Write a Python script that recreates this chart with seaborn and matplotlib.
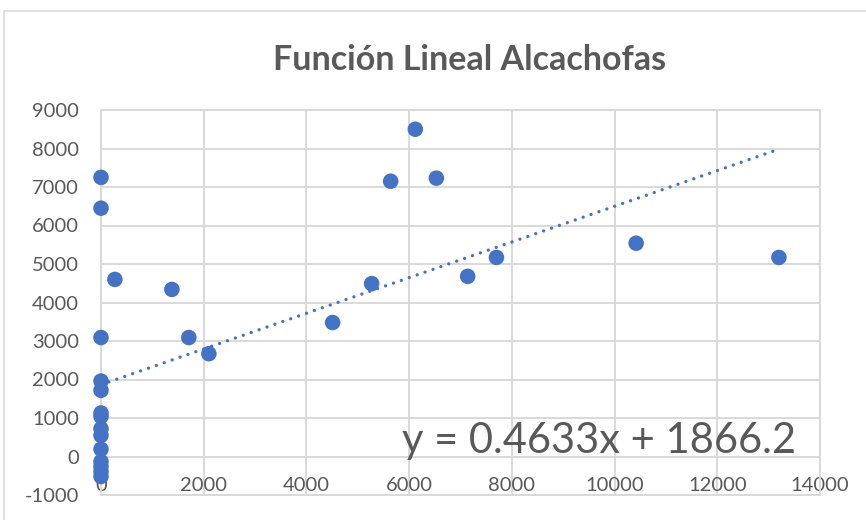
import matplotlib
matplotlib.use('Agg')
import matplotlib.pyplot as plt
import seaborn as sb
import pandas as pd
from matplotlib.patches import Rectangle

# hectareas (x) vs produccion (y)
x_vals = [0, 0, 0, 0, 0, 0, 0, 0, 0, 0, 0, 0, 0, 0,
          270, 1380, 1710, 2100, 4510, 5270, 5640, 6120, 6530, 7140, 7700, 10420, 13200]
y_vals = [7250, 6450, 3090, 1960, 1720, 1130, 1040, 720, 550, 190, -130, -260, -390, -520,
          4600, 4340, 3090, 2670, 3480, 4490, 7150, 8500, 7230, 4680, 5170, 5540, 5170]

slope = 0.4633
intercept = 1866.2

x_ticks = [0, 2000, 4000, 6000, 8000, 10000, 12000, 14000]
y_ticks = [-1000, 0, 1000, 2000, 3000, 4000, 5000, 6000, 7000, 8000, 9000]

title = 'Función Lineal Alcachofas'
blue = '#4472C4'
grey = '#595959'
grid = '#d9d9d9'

sb.set_theme(style='whitegrid')
plt.rcParams['font.family'] = ['Lato', 'DejaVu Sans']
plt.rcParams['axes.unicode_minus'] = False

data = pd.DataFrame({'x': x_vals, 'y': y_vals})

fig = plt.figure(figsize=(8.66, 5.2), dpi=100)
ax = fig.add_axes([101 / 866, 1 - 495 / 520, 719 / 866, 385 / 520])

sb.scatterplot(data=data, x='x', y='y', ax=ax, color=blue, s=125,
               edgecolor='none', clip_on=False, zorder=3)

# excel trendline, drawn from the fitted equation
tx = [min(x_vals), max(x_vals)]
ty = [slope * v + intercept for v in tx]
ax.plot(tx, ty, color=blue, lw=2.4, linestyle=(0, (0.01, 2.5)),
        dash_capstyle='round', zorder=2)

ax.set_xlim(0, 14000)
ax.set_ylim(-1000, 9000)
ax.set_xticks(x_ticks)
ax.set_yticks(y_ticks)
ax.set_xlabel('')
ax.set_ylabel('')
ax.grid(True, color=grid, lw=1.4)
for s in ax.spines.values():
    s.set_color(grid)
    s.set_linewidth(1.4)

ax.tick_params(axis='both', length=0, labelsize=14.5, labelcolor=grey)
ax.tick_params(axis='y', pad=16)
ax.tick_params(axis='x', pad=-1)
for lab in ax.get_xticklabels():
    lab.set_va('bottom')

ax.text((402 - 101) / 719, (495 - 453) / 385, 'y = 0.4633x + 1866.2',
        transform=ax.transAxes, fontsize=30, color=grey, va='baseline', ha='left')

fig.text(470 / 866, 1 - 60 / 520, title, fontsize=24.5, fontweight='bold',
         color=grey, ha='center', va='center')

fig.add_artist(Rectangle((4 / 866, -0.1), 1.2, 1.1 - 11 / 520, transform=fig.transFigure,
                         fill=False, edgecolor=grid, lw=1.2))

fig.savefig('out.png', dpi=100)
